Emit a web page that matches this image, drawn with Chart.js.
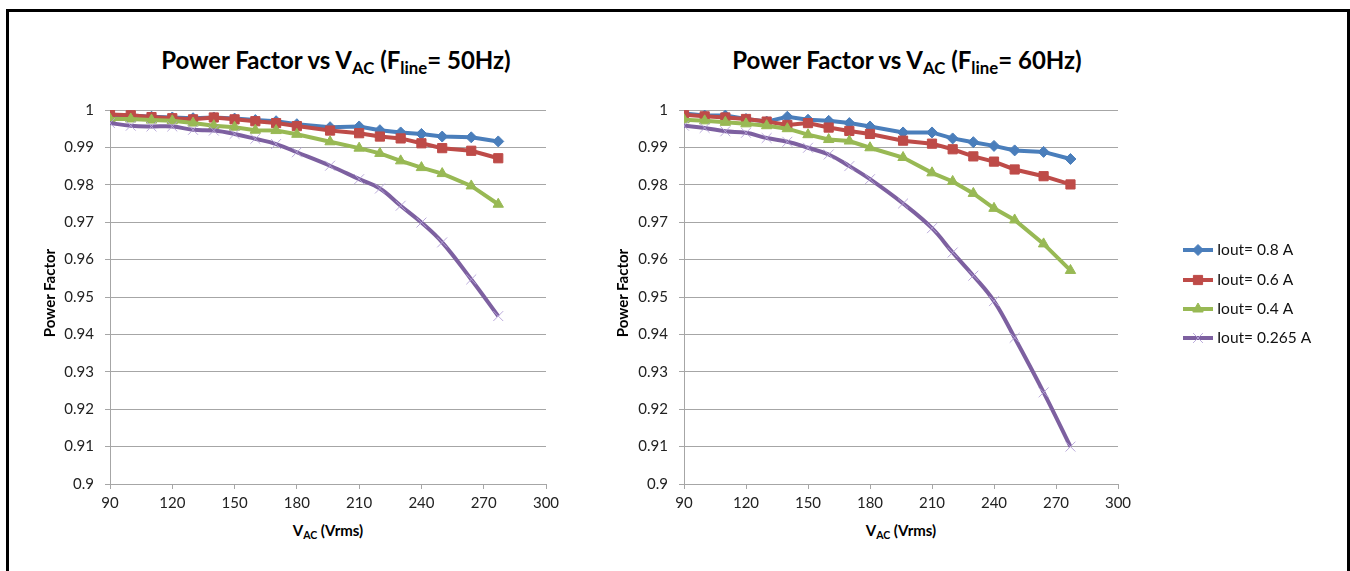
<!DOCTYPE html>
<html>
<head>
<meta charset="utf-8">
<script src="https://cdn.jsdelivr.net/npm/chart.js@4.4.1/dist/chart.umd.min.js"></script>
<style>
  body { margin: 0; background: #fff; font-family: Lato, 'Open Sans', sans-serif; color: #000; }
  #frame { position: absolute; left: 6px; top: 9px; width: 1344px; height: 600px;
    border: 3px solid #000; box-sizing: border-box; }
  canvas { position: absolute; }
  .title { position: absolute; width: 600px; text-align: center; font-weight: bold; font-size: 24px; }
  .xtitle { position: absolute; width: 300px; text-align: center; font-weight: bold; font-size: 15px; }
  .ytitle { position: absolute; width: 200px; text-align: center; font-weight: bold; font-size: 15px;
    transform: rotate(-90deg); }
  sub { font-size: 70%; vertical-align: -0.3em; }
</style>
</head>
<body>
<div id="frame"></div>

<div class="title" style="left:36px; top:45px">Power Factor vs V<sub>AC</sub> (F<sub>line</sub>= 50Hz)</div>
<div class="title" style="left:607px; top:45px">Power Factor vs V<sub>AC</sub> (F<sub>line</sub>= 60Hz)</div>

<canvas id="pf50" width="600" height="424" style="left:0px; top:90px"></canvas>
<canvas id="pf60" width="776" height="424" style="left:574px; top:90px"></canvas>

<div class="ytitle" style="left:-51px; top:284px">Power Factor</div>
<div class="ytitle" style="left:522px; top:284px">Power Factor</div>
<div class="xtitle" style="left:178px; top:521px">V<sub>AC</sub> (Vrms)</div>
<div class="xtitle" style="left:751px; top:521px">V<sub>AC</sub> (Vrms)</div>

<script>
// data
const volts = [90, 100, 110, 120, 130, 140, 150, 160, 170, 180, 196, 210, 220, 230, 240, 250, 264, 277]
const seriesNames = ['Iout= 0.8 A', 'Iout= 0.6 A', 'Iout= 0.4 A', 'Iout= 0.265 A']

// 50 Hz
const pf50_08 = [0.9987, 0.9985, 0.9982, 0.998, 0.9978, 0.998, 0.9977, 0.9973, 0.997, 0.9962, 0.9954, 0.9956, 0.9946, 0.994, 0.9936, 0.9929, 0.9927, 0.9916]
const pf50_06 = [0.9988, 0.9986, 0.9981, 0.9978, 0.9975, 0.998, 0.9975, 0.997, 0.9965, 0.9957, 0.9945, 0.9938, 0.9929, 0.9924, 0.9911, 0.9898, 0.9891, 0.9871]
const pf50_04 = [0.9976, 0.9976, 0.9973, 0.9971, 0.9965, 0.9958, 0.9954, 0.9946, 0.9945, 0.9935, 0.9915, 0.9898, 0.9884, 0.9864, 0.9846, 0.983, 0.9797, 0.9748]
const pf50_0265 = [0.9965, 0.9958, 0.9956, 0.9956, 0.9947, 0.9945, 0.9936, 0.9923, 0.9909, 0.9887, 0.9851, 0.9815, 0.979, 0.9744, 0.9699, 0.9646, 0.9547, 0.9449]

// 60 Hz
const pf60_08 = [0.9991, 0.9985, 0.9985, 0.9976, 0.9969, 0.9982, 0.9974, 0.9971, 0.9965, 0.9956, 0.994, 0.994, 0.9924, 0.9914, 0.9904, 0.9892, 0.9888, 0.9869]
const pf60_06 = [0.9987, 0.9983, 0.998, 0.9976, 0.9969, 0.996, 0.9965, 0.9953, 0.9944, 0.9936, 0.9918, 0.991, 0.9895, 0.9876, 0.9862, 0.9841, 0.9823, 0.9801]
const pf60_04 = [0.9974, 0.9971, 0.9967, 0.9963, 0.9958, 0.995, 0.9934, 0.9921, 0.9917, 0.9899, 0.9873, 0.9832, 0.9809, 0.9777, 0.9737, 0.9706, 0.9642, 0.9571]
const pf60_0265 = [0.9958, 0.9952, 0.9943, 0.9939, 0.9925, 0.9915, 0.9899, 0.9881, 0.985, 0.9815, 0.975, 0.9684, 0.9619, 0.9557, 0.9489, 0.9391, 0.9245, 0.91]

const xTicks = { min: 90, max: 300, step: 30 }
const yTicks = { min: 0.9, max: 1, step: 0.01 }

// styles
const looks = [
  { color: '#4a7ebb', pointStyle: 'rectRot', radius: 5.5, tension: 0 },
  { color: '#be4b48', pointStyle: 'rect', radius: 6.5, tension: 0 },
  { color: '#98b954', pointStyle: 'triangle', radius: 6, tension: 0 },
  { color: '#7d60a0', pointStyle: 'crossRot', radius: 7, tension: 0.4, markColor: 'rgba(180,162,215,0.9)' },
]
const gridColor = '#a6a6a6'
const tickFont = { family: 'Lato', size: 15 }

const toPoints = (ys) => volts.map((v, i) => ({ x: v, y: ys[i] }))

const buildDatasets = (allSeries) =>
  allSeries.map((ys, i) => {
    const look = looks[i]
    return {
      label: seriesNames[i],
      data: toPoints(ys),
      borderColor: look.color,
      backgroundColor: look.color,
      borderWidth: 4,
      pointStyle: look.pointStyle,
      pointRadius: look.radius,
      pointBorderColor: look.markColor || look.color,
      pointBackgroundColor: look.color,
      pointBorderWidth: 1,
      tension: look.tension,
      order: 4 - i,
    }
  })

// legend drawn to the right of the 60 Hz chart
const legendSpot = { x: 1183, y: [250, 280, 309, 338], lineLen: 30, textGap: 4 }

const sideLegend = {
  id: 'sideLegend',
  afterDraw(chart) {
    const ctx = chart.ctx
    const offX = chart.canvas.offsetLeft
    const offY = chart.canvas.offsetTop
    ctx.save()
    chart.data.datasets.forEach((ds, i) => {
      const x = legendSpot.x - offX
      const y = legendSpot.y[i] - offY
      ctx.strokeStyle = ds.borderColor
      ctx.lineWidth = 4
      ctx.beginPath()
      ctx.moveTo(x, y)
      ctx.lineTo(x + legendSpot.lineLen, y)
      ctx.stroke()
      if (Chart.helpers && Chart.helpers.drawPoint) {
        ctx.fillStyle = ds.pointBackgroundColor
        ctx.strokeStyle = ds.pointBorderColor
        ctx.lineWidth = 1
        Chart.helpers.drawPoint(ctx, {
          pointStyle: ds.pointStyle,
          radius: ds.pointRadius,
          rotation: 0,
          borderWidth: 1,
        }, x + legendSpot.lineLen / 2, y)
      }
      ctx.fillStyle = '#111'
      ctx.font = '15.5px Lato'
      ctx.textBaseline = 'middle'
      ctx.textAlign = 'left'
      ctx.fillText(ds.label, x + legendSpot.lineLen + legendSpot.textGap, y)
    })
    ctx.restore()
  },
}

const makeChart = (canvasId, allSeries, padRight, plugins) => {
  return new Chart(document.getElementById(canvasId), {
    type: 'line',
    data: { datasets: buildDatasets(allSeries) },
    options: {
      responsive: false,
      animation: false,
      devicePixelRatio: 1,
      layout: { padding: { top: 15, right: padRight, bottom: 0, left: 0 } },
      plugins: { legend: { display: false }, tooltip: { enabled: false } },
      scales: {
        x: {
          type: 'linear',
          min: xTicks.min,
          max: xTicks.max,
          afterFit: (scale) => { scale.height = 30 },
          ticks: { stepSize: xTicks.step, color: '#222', font: tickFont, padding: 5 },
          grid: { drawOnChartArea: false, color: gridColor, tickLength: 5 },
          border: { color: gridColor },
        },
        y: {
          min: yTicks.min,
          max: yTicks.max,
          afterFit: (scale) => { scale.width = 110 },
          ticks: {
            stepSize: yTicks.step,
            color: '#222',
            font: tickFont,
            padding: 11,
            callback: (v) => String(+v.toFixed(2)),
          },
          grid: { color: gridColor, tickLength: 5 },
          border: { color: gridColor },
        },
      },
    },
    plugins: plugins,
  })
}

makeChart('pf50', [pf50_08, pf50_06, pf50_04, pf50_0265], 54, [])
makeChart('pf60', [pf60_08, pf60_06, pf60_04, pf60_0265], 232, [sideLegend])
</script>
</body>
</html>
